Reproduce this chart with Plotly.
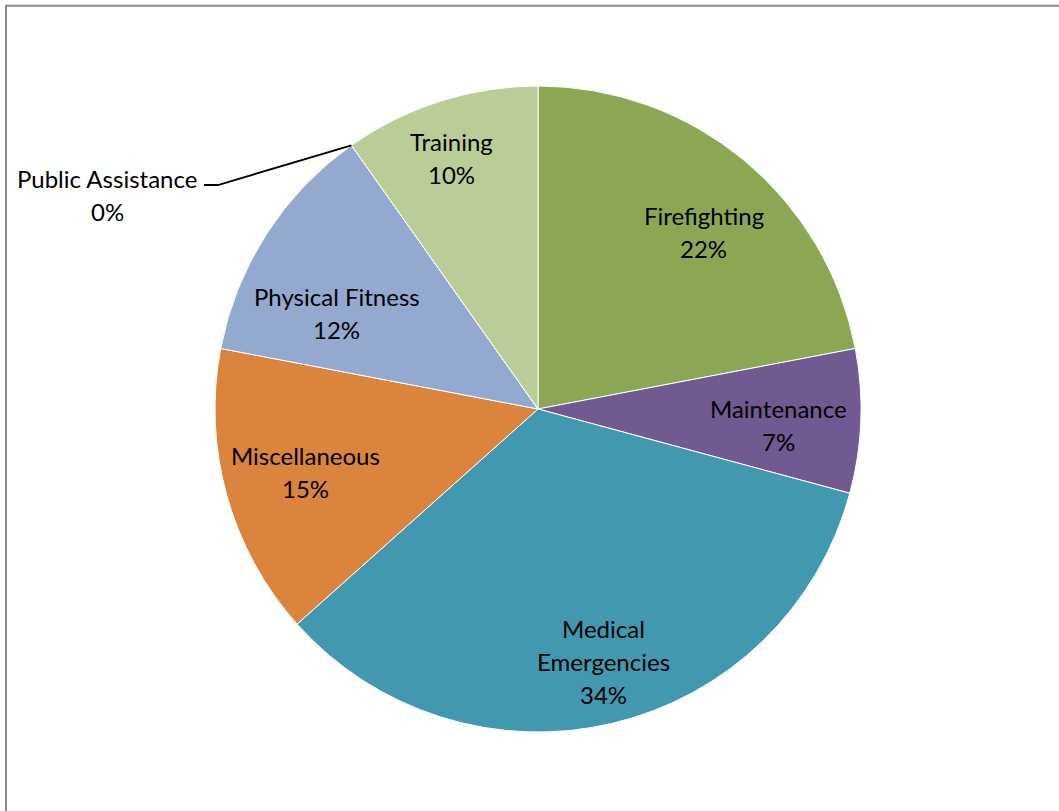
import math
import plotly.graph_objects as go

# Share of hours by activity (percent), clockwise from 12 o'clock
categories = ["Firefighting", "Maintenance", "Medical Emergencies", "Miscellaneous",
              "Physical Fitness", "Public Assistance", "Training"]
shares = [22.0, 7.2, 34.2, 14.6, 12.2, 0.0, 9.8]
colors = ["#8BA753", "#715991", "#4198AF", "#DB843D", "#93A9CF", "#93A9CF", "#BACD97"]

W, H = 1059, 811
CX, CY, R = 538, 409, 323
ML, MT = CX - R, CY - R
MR, MB = W - (CX + R), H - (CY + R)
FONT = "Lato"
FSIZE = 24
LINE_GAP = 33


def px(x):
    return (x - ML) / (2 * R)


def py(y):
    return (CY + R - y) / (2 * R)


# label placement inside slices: (radius fraction, angle nudge in degrees)
inside_place = {
    "Firefighting": (0.750, 3.6),
    "Maintenance": (0.745, 1.6),
    "Medical Emergencies": (0.808, -1.3),
    "Miscellaneous": (0.744, 0.4),
    "Physical Fitness": (0.690, -7.2),
    "Training": (0.823, -1.3),
}
wrapped = {"Medical Emergencies": ["Medical", "Emergencies"]}
# outside label for the empty slice, with its leader line
outside_block = (107, 194.5)
leader_elbow = [(218, 185), (204, 185)]

total = sum(shares)

fig = go.Figure(go.Pie(
    labels=categories,
    values=shares,
    sort=False,
    direction="clockwise",
    rotation=0,
    marker=dict(colors=colors, line=dict(color="white", width=1)),
    textinfo="none",
    hoverinfo="label+percent",
    showlegend=False,
))

annotations = []
shapes = []
cum = 0.0
for name, v in zip(categories, shares):
    start = cum / total * 360
    cum += v
    end = cum / total * 360
    mid = (start + end) / 2
    lines = wrapped.get(name, [name]) + ["%d%%" % round(v / total * 100)]
    if name in inside_place:
        frac, nudge = inside_place[name]
        a = math.radians(mid + nudge)
        bx = CX + frac * R * math.sin(a)
        by = CY - frac * R * math.cos(a)
    else:
        bx, by = outside_block
        a = math.radians(start)
        ex = CX + R * math.sin(a)
        ey = CY - R * math.cos(a)
        pts = [(ex, ey)] + leader_elbow
        path = "M " + " L ".join("%f,%f" % (px(x), py(y)) for x, y in pts)
        shapes.append(dict(type="path", path=path, xref="paper", yref="paper",
                           line=dict(color="black", width=1.8)))
    n = len(lines)
    for i, t in enumerate(lines):
        ly = by + (i - (n - 1) / 2) * LINE_GAP
        annotations.append(dict(
            x=px(bx), y=py(ly), xref="paper", yref="paper",
            text=t, showarrow=False, xanchor="center", yanchor="middle",
            font=dict(family=FONT, size=FSIZE, color="black"),
        ))

# chart frame
shapes.append(dict(type="rect", xref="paper", yref="paper",
                   x0=px(6), y0=py(5.7), x1=px(W + 10), y1=py(H + 10),
                   line=dict(color="#8A8A8A", width=2), fillcolor="rgba(0,0,0,0)"))

fig.update_layout(
    width=W, height=H,
    margin=dict(l=ML, r=MR, t=MT, b=MB),
    paper_bgcolor="white",
    plot_bgcolor="white",
    annotations=annotations,
    shapes=shapes,
)

fig.write_html("out.html")
